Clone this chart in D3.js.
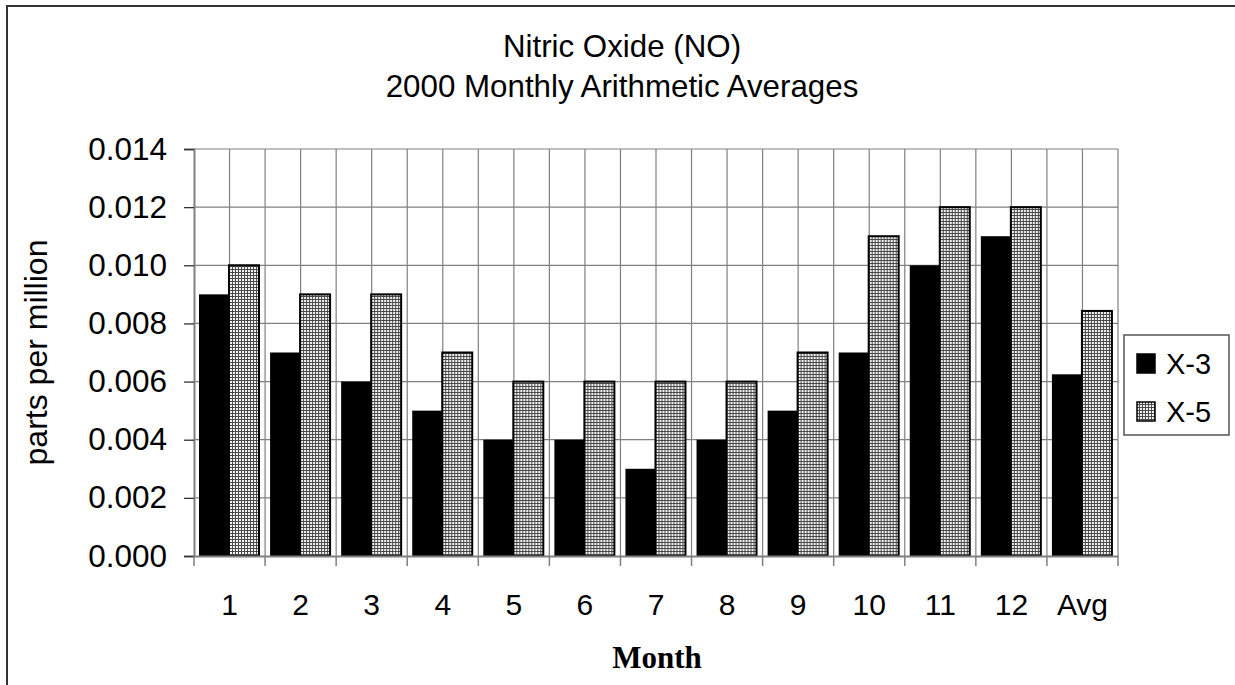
<!DOCTYPE html>
<html>
<head>
<meta charset="utf-8">
<script src="https://cdn.jsdelivr.net/npm/d3@7"></script>
<style>
  body { margin: 0; background: #fff; }
  svg { display: block; }
  text { font-family: "Liberation Sans", Arial, sans-serif; }
</style>
</head>
<body>
<svg id="chart" width="1235" height="685"></svg>
<script>
// --- data ---
const months = ["1", "2", "3", "4", "5", "6", "7", "8", "9", "10", "11", "12", "Avg"];
const seriesNames = ["X-3", "X-5"];
const x3Values = [0.009, 0.007, 0.006, 0.005, 0.004, 0.004, 0.003, 0.004, 0.005, 0.007, 0.010, 0.011, 0.00625];
const x5Values = [0.010, 0.009, 0.009, 0.007, 0.006, 0.006, 0.006, 0.006, 0.007, 0.011, 0.012, 0.012, 0.00843];
const yTicks = [0, 0.002, 0.004, 0.006, 0.008, 0.010, 0.012, 0.014];
const titleLines = ["Nitric Oxide (NO)", "2000 Monthly Arithmetic Averages"];

const rows = months.map((m, i) => ({ month: m, values: [x3Values[i], x5Values[i]] }));

const svg = d3.select("#chart");

// outer frame (only left/top visible in the reference)
svg.append("rect")
  .attr("x", 7).attr("y", 6)
  .attr("width", 1240).attr("height", 700)
  .attr("fill", "none")
  .attr("stroke", "#333")
  .attr("stroke-width", 2);

// checkered fill for X-5
const defs = svg.append("defs");
const pat = defs.append("pattern")
  .attr("id", "check")
  .attr("patternUnits", "userSpaceOnUse")
  .attr("width", 3).attr("height", 3);
pat.append("rect").attr("width", 3).attr("height", 3).attr("fill", "#4a4a4a");
pat.append("rect").attr("width", 2).attr("height", 2).attr("fill", "#f2f2f2");

const plot = { left: 194, right: 1118, top: 149, bottom: 556 };

const x = d3.scaleBand()
  .domain(months)
  .range([plot.left, plot.right])
  .padding(0);

const xInner = d3.scaleBand()
  .domain(seriesNames)
  .range([5, 65])
  .padding(0);

const y = d3.scaleLinear()
  .domain([0, 0.014])
  .range([plot.bottom, plot.top]);

// --- gridlines ---
const grid = svg.append("g").attr("class", "grid");
grid.selectAll("line.h")
  .data(yTicks.slice(1))
  .enter().append("line")
  .attr("x1", plot.left).attr("x2", plot.right)
  .attr("y1", d => y(d)).attr("y2", d => y(d))
  .attr("stroke", "#808080").attr("stroke-width", 1.2);

// vertical gridlines at band edges and band middles
const vLines = [];
months.forEach(m => {
  vLines.push(x(m) + x.bandwidth() / 2);
  vLines.push(x(m) + x.bandwidth());
});
grid.selectAll("line.v")
  .data(vLines)
  .enter().append("line")
  .attr("x1", d => d).attr("x2", d => d)
  .attr("y1", plot.top).attr("y2", plot.bottom)
  .attr("stroke", "#808080").attr("stroke-width", 1.2);

// --- bars ---
const groups = svg.append("g")
  .selectAll("g")
  .data(rows)
  .enter().append("g")
  .attr("transform", d => `translate(${x(d.month)},0)`);

groups.selectAll("rect")
  .data(d => d.values.map((v, i) => ({ key: seriesNames[i], value: v })))
  .enter().append("rect")
  .attr("x", d => xInner(d.key))
  .attr("y", d => y(d.value))
  .attr("width", xInner.bandwidth())
  .attr("height", d => plot.bottom - y(d.value))
  .attr("fill", d => d.key === "X-3" ? "#000" : "url(#check)")
  .attr("stroke", "#000")
  .attr("stroke-width", d => d.key === "X-3" ? 0 : 2);

// --- axes ---
const yAxis = svg.append("g")
  .attr("transform", `translate(${plot.left},0)`)
  .call(d3.axisLeft(y).tickValues(yTicks).tickFormat(d3.format(".3f")).tickSize(10).tickPadding(17));
yAxis.select(".domain").attr("stroke", "#808080").attr("stroke-width", 2);
yAxis.selectAll(".tick line").attr("stroke", "#333").attr("stroke-width", 1.3);
yAxis.selectAll("text").attr("font-size", 31.5).attr("fill", "#000")
  .style("font-family", "'Liberation Sans', Arial, sans-serif");

const xAxis = svg.append("g")
  .attr("transform", `translate(0,${plot.bottom})`)
  .call(d3.axisBottom(x).tickSize(0).tickPadding(38));
xAxis.select(".domain").attr("stroke", "#808080").attr("stroke-width", 2);
xAxis.selectAll("text").attr("font-size", 30).attr("fill", "#000")
  .style("font-family", "'Liberation Sans', Arial, sans-serif");

// tick marks at category boundaries
xAxis.selectAll("line.bound")
  .data([plot.left].concat(months.map(m => x(m) + x.bandwidth())))
  .enter().append("line")
  .attr("class", "bound")
  .attr("x1", d => d).attr("x2", d => d)
  .attr("y1", 0).attr("y2", 10)
  .attr("stroke", "#808080").attr("stroke-width", 1.5);

// --- titles ---
svg.append("text")
  .attr("text-anchor", "middle")
  .attr("font-size", 31.3)
  .selectAll("tspan")
  .data(titleLines)
  .enter().append("tspan")
  .attr("x", 622)
  .attr("y", (d, i) => 57 + i * 40)
  .text(d => d);

svg.append("text")
  .attr("text-anchor", "middle")
  .attr("transform", `translate(47, ${(plot.top + plot.bottom) / 2}) rotate(-90)`)
  .attr("font-size", 32)
  .text("parts per million");

svg.append("text")
  .attr("text-anchor", "middle")
  .attr("x", 657).attr("y", 668)
  .attr("font-size", 31)
  .attr("font-weight", "bold")
  .style("font-family", "'Liberation Serif', 'Times New Roman', serif")
  .text("Month");

// --- legend ---
const legend = svg.append("g").attr("transform", "translate(1124,335)");
legend.append("rect")
  .attr("width", 105).attr("height", 100)
  .attr("fill", "#fff")
  .attr("stroke", "#555").attr("stroke-width", 1.5);

const items = legend.selectAll("g.item")
  .data(seriesNames)
  .enter().append("g")
  .attr("transform", (d, i) => `translate(13, ${19 + i * 48})`);
items.append("rect")
  .attr("width", 18).attr("height", 19)
  .attr("fill", d => d === "X-3" ? "#000" : "url(#check)")
  .attr("stroke", "#000").attr("stroke-width", 1.5);
items.append("text")
  .attr("x", 29).attr("y", 20)
  .attr("font-size", 29)
  .text(d => d);
</script>
</body>
</html>
